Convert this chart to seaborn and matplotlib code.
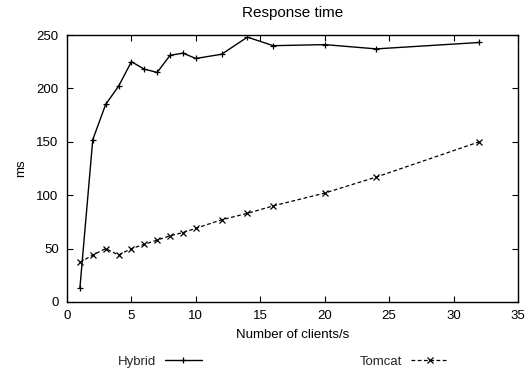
import matplotlib
matplotlib.use("Agg")
import matplotlib.pyplot as plt
import seaborn as sns
import pandas as pd

clients = [1, 2, 3, 4, 5, 6, 7, 8, 9, 10, 12, 14, 16, 20, 24, 32]
hybrid_ms = [13, 152, 185, 202, 225, 218, 215, 231, 233, 228, 232, 248, 240, 241, 237, 243]
tomcat_ms = [37, 44, 50, 44, 50, 54, 58, 62, 65, 69, 77, 83, 90, 102, 117, 150]

x_ticks = [0, 5, 10, 15, 20, 25, 30, 35]
y_ticks = [0, 50, 100, 150, 200, 250]

sns.set_theme(style="white")
plt.rcParams["font.family"] = ["Liberation Sans", "DejaVu Sans"]
plt.rcParams["font.size"] = 9.5

df = pd.DataFrame({"clients": clients, "Hybrid": hybrid_ms, "Tomcat": tomcat_ms})

fig = plt.figure(figsize=(5.28, 3.73), dpi=100)
ax = fig.add_axes([67 / 528, 1 - 302 / 373, (518 - 67) / 528, (302 - 35) / 373])

sns.lineplot(data=df, x="clients", y="Hybrid", ax=ax, color="black", linewidth=1.0,
             marker="+", markersize=5, markeredgewidth=0.9, markeredgecolor="black",
             label="Hybrid")
sns.lineplot(data=df, x="clients", y="Tomcat", ax=ax, color="black", linewidth=0.9,
             dashes=False, marker="x", markersize=4, markeredgewidth=0.9,
             markeredgecolor="black", label="Tomcat")
ax.lines[1].set_linestyle((0, (3, 2)))

ax.set_xlim(0, 35)
ax.set_ylim(0, 250)
ax.set_xticks(x_ticks)
ax.set_yticks(y_ticks)
ax.tick_params(direction="in", length=4, width=0.8, color="black",
               top=True, right=True, bottom=True, left=True,
               labelsize=9.5, labelcolor="black", pad=6)
for s in ax.spines.values():
    s.set_color("black")
    s.set_linewidth(1.0)

ax.set_title("Response time", fontsize=11, pad=13, color="black")
ax.set_xlabel("Number of clients/s", fontsize=9.5, color="black", labelpad=5)
ax.set_ylabel("ms", fontsize=9.5, color="black", labelpad=7)

handles, labels = ax.get_legend_handles_labels()
ax.get_legend().remove()
fig.legend(handles, labels, loc="center", bbox_to_anchor=(0.536, 0.03), ncol=2,
           markerfirst=False, frameon=False, handlelength=2.8, handletextpad=0.68,
           columnspacing=12, fontsize=9.5)

fig.savefig("out.png", dpi=100, facecolor="white")
